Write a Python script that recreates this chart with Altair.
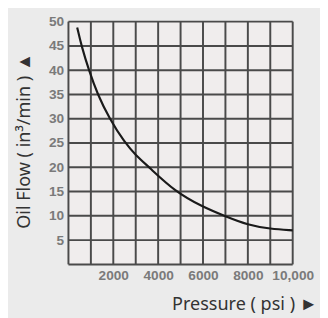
import altair as alt
import pandas as pd

# curve (pressure psi, oil flow in^3/min)
pressure = [390, 580, 910, 1300, 1830, 2520, 3000, 3600, 4750, 6000, 7000, 8000, 9000, 10000]
oil_flow = [48.8, 45, 40, 35, 30, 25, 22.5, 20, 15, 11.8, 9.9, 8.1, 7.3, 7.0]

x_grid = [0, 1000, 2000, 3000, 4000, 5000, 6000, 7000, 8000, 9000, 10000]
y_grid = [0, 5, 10, 15, 20, 25, 30, 35, 40, 45, 50]
x_ticks = [2000, 4000, 6000, 8000, 10000]
x_tick_labels = ["2000", "4000", "6000", "8000", "10,000"]
y_ticks = [5, 10, 15, 20, 25, 30, 35, 40, 45, 50]

curve_df = pd.DataFrame({"p": pressure, "q": oil_flow})
xg_df = pd.DataFrame({"p": x_grid})
yg_df = pd.DataFrame({"q": y_grid})

label_expr = "''"
for v, t in reversed(list(zip(x_ticks, x_tick_labels))):
    label_expr = f"datum.value == {v} ? '{t}' : ({label_expr})"

xscale = alt.Scale(domain=[0, 10000], nice=False)
yscale = alt.Scale(domain=[0, 50], nice=False)

GRID = "#4a4a4a"

xaxis = alt.Axis(
    values=x_ticks, labelExpr=label_expr, grid=False, ticks=False, domain=False,
    labelOverlap=False, labelFlush=False,
    labelFont="Liberation Sans", labelFontSize=14, labelFontWeight="bold",
    labelColor="#7a7a7a", labelPadding=5,
    title="Pressure ( psi ) ►", titleFont="Noto Sans", titleFontSize=18.5,
    titleFontWeight="normal", titleColor="#333333",
    titleAlign="right", titleAnchor="end", titleX=255, titleY=40,
    titleBaseline="middle",
)
yaxis = alt.Axis(
    values=y_ticks, grid=False, ticks=False, domain=False,
    labelOverlap=False, labelFlush=False,
    labelFont="Liberation Sans", labelFontSize=14, labelFontWeight="bold",
    labelColor="#7a7a7a", labelPadding=5,
    title="Oil Flow ( in³/min ) ▲", titleFont="Noto Sans", titleFontSize=18.5,
    titleFontWeight="normal", titleColor="#333333",
    titleAngle=270, titleAlign="center", titleBaseline="middle",
    titleX=-46, titleY=122,
)

vlines = alt.Chart(xg_df).mark_rule(color=GRID, strokeWidth=2).encode(
    x=alt.X("p:Q", scale=xscale, axis=xaxis)
)
hlines = alt.Chart(yg_df).mark_rule(color=GRID, strokeWidth=2).encode(
    y=alt.Y("q:Q", scale=yscale, axis=yaxis)
)
curve = alt.Chart(curve_df).mark_line(
    color="#1a1a1a", strokeWidth=2.2, interpolate="basis"
).encode(
    x=alt.X("p:Q", scale=xscale, axis=xaxis),
    y=alt.Y("q:Q", scale=yscale, axis=yaxis),
)

chart = alt.layer(vlines, hlines, curve).properties(
    width=230, height=249,
    autosize=alt.AutoSizeParams(type="none"),
    padding={"left": 62, "top": 10, "right": 28, "bottom": 51},
    background="#ebebeb",
).configure_view(fill="#f0eded", stroke=None)

chart.save("out.html", embed_options={"renderer": "svg", "actions": False})
